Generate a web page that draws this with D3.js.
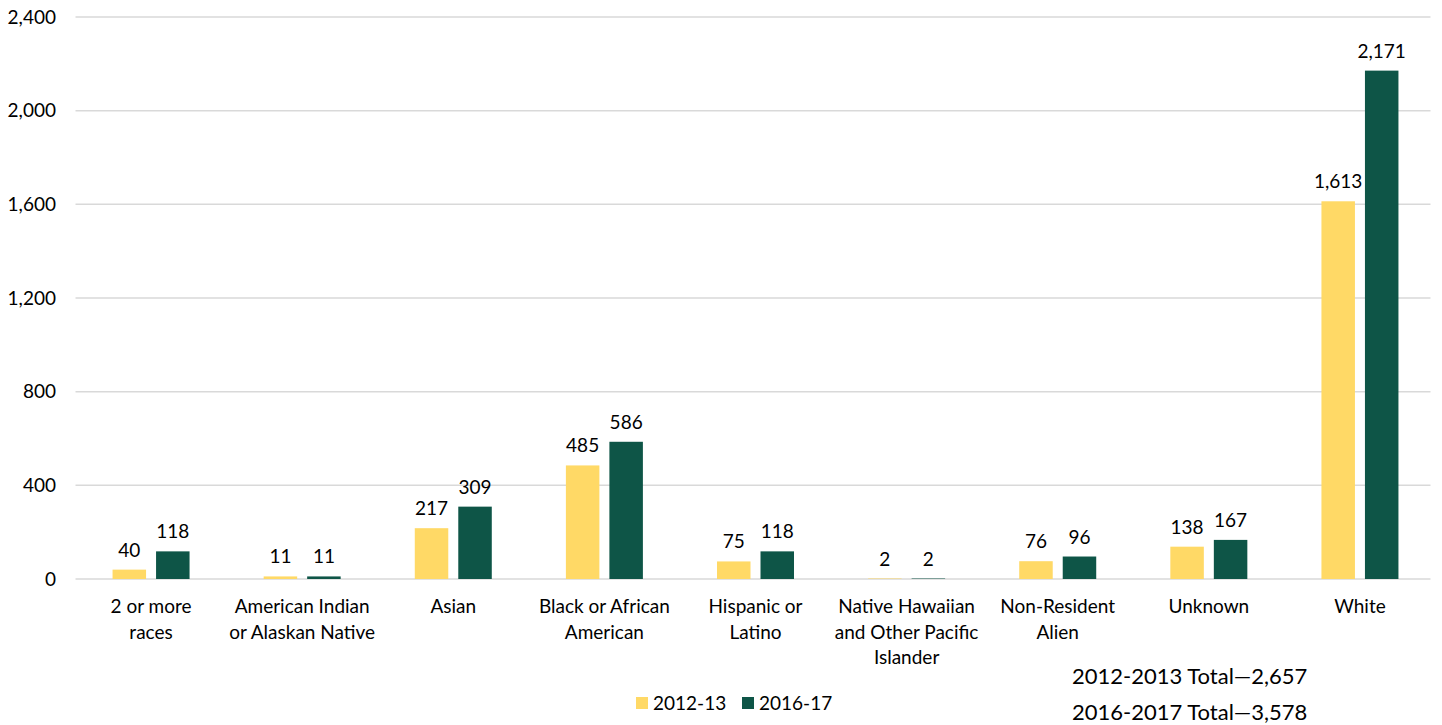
<!DOCTYPE html>
<html>
<head>
<meta charset="utf-8">
<script src="https://cdn.jsdelivr.net/npm/d3@7"></script>
<style>
  body { margin: 0; background: #fff; }
  text { font-family: Lato, "Open Sans", sans-serif; fill: #000; }
</style>
</head>
<body>
<div id="chart"></div>
<script>
  // Data
  var categories = [
    ["2 or more", "races"],
    ["American Indian", "or Alaskan Native"],
    ["Asian"],
    ["Black or African", "American"],
    ["Hispanic or", "Latino"],
    ["Native Hawaiian", "and Other Pacific", "Islander"],
    ["Non-Resident", "Alien"],
    ["Unknown"],
    ["White"]
  ];
  var series = ["2012-13", "2016-17"];
  var values2012 = [40, 11, 217, 485, 75, 2, 76, 138, 1613];
  var values2017 = [118, 11, 309, 586, 118, 2, 96, 167, 2171];
  var yTicks = [0, 400, 800, 1200, 1600, 2000, 2400];
  var totals = ["2012-2013 Total\u20142,657", "2016-2017 Total\u20143,578"];
  var colors = ["#FFD966", "#0E5547"];

  var W = 1442, H = 725;
  var plotLeft = 75.5, plotRight = 1435.5, plotTop = 17, plotBottom = 579;

  var svg = d3.select("#chart").append("svg")
    .attr("width", W)
    .attr("height", H);

  var x0 = d3.scaleBand()
    .domain(d3.range(categories.length))
    .range([plotLeft, plotRight]);

  var x1 = d3.scaleBand()
    .domain(series)
    .range([0, 77])
    .paddingInner(0.23);

  var y = d3.scaleLinear()
    .domain([0, 2400])
    .range([plotBottom, plotTop]);

  // gridlines
  svg.append("g").selectAll("line")
    .data(yTicks)
    .enter().append("line")
    .attr("x1", plotLeft)
    .attr("x2", plotRight - 5)
    .attr("y1", function(d) { return y(d); })
    .attr("y2", function(d) { return y(d); })
    .style("stroke", "#d9d9d9")
    .style("stroke-width", "1.5px");

  // y tick labels
  svg.append("g").selectAll("text")
    .data(yTicks)
    .enter().append("text")
    .attr("x", 56)
    .attr("y", function(d) { return y(d); })
    .attr("dy", "0.35em")
    .attr("text-anchor", "end")
    .style("font-size", "19px")
    .text(function(d) { return d3.format(",")(d); });

  // bars
  var rows = categories.map(function(c, i) {
    return [values2012[i], values2017[i]];
  });

  var group = svg.append("g").selectAll("g")
    .data(rows)
    .enter().append("g")
    .attr("transform", function(d, i) {
      return "translate(" + (x0(i) + x0.bandwidth() / 2 - 38.5) + ",0)";
    });

  group.selectAll("rect")
    .data(function(d) { return d; })
    .enter().append("rect")
    .attr("x", function(d, j) { return x1(series[j]); })
    .attr("width", x1.bandwidth())
    .attr("y", function(d) { return y(d); })
    .attr("height", function(d) { return plotBottom - y(d); })
    .style("fill", function(d, j) { return colors[j]; });

  group.selectAll("text")
    .data(function(d) { return d; })
    .enter().append("text")
    .attr("x", function(d, j) { return x1(series[j]) + x1.bandwidth() / 2; })
    .attr("y", function(d) { return y(d) - 13; })
    .attr("text-anchor", "middle")
    .style("font-size", "19px")
    .text(function(d) { return d3.format(",")(d); });

  // category labels
  var catG = svg.append("g").selectAll("text")
    .data(categories)
    .enter().append("text")
    .attr("text-anchor", "middle")
    .style("font-size", "19px")
    .attr("transform", function(d, i) {
      return "translate(" + (x0(i) + x0.bandwidth() / 2) + ",613)";
    });

  catG.selectAll("tspan")
    .data(function(d) { return d; })
    .enter().append("tspan")
    .attr("x", 0)
    .attr("y", function(d, k) { return k * 25.5; })
    .text(function(d) { return d; });

  // legend
  var legendX = [636, 742];
  var legend = svg.append("g").selectAll("g")
    .data(series)
    .enter().append("g")
    .attr("transform", function(d, i) { return "translate(" + legendX[i] + ",697)"; });

  legend.append("rect")
    .attr("width", 12)
    .attr("height", 12)
    .style("fill", function(d, i) { return colors[i]; });

  legend.append("text")
    .attr("x", 17)
    .attr("y", 6)
    .attr("dy", "0.35em")
    .style("font-size", "19px")
    .text(function(d) { return d; });

  // totals note
  svg.append("g").selectAll("text")
    .data(totals)
    .enter().append("text")
    .attr("x", 1072)
    .attr("y", function(d, i) { return 676 + i * 36; })
    .attr("dy", "0.35em")
    .style("font-size", "22px")
    .text(function(d) { return d; });
</script>
</body>
</html>
